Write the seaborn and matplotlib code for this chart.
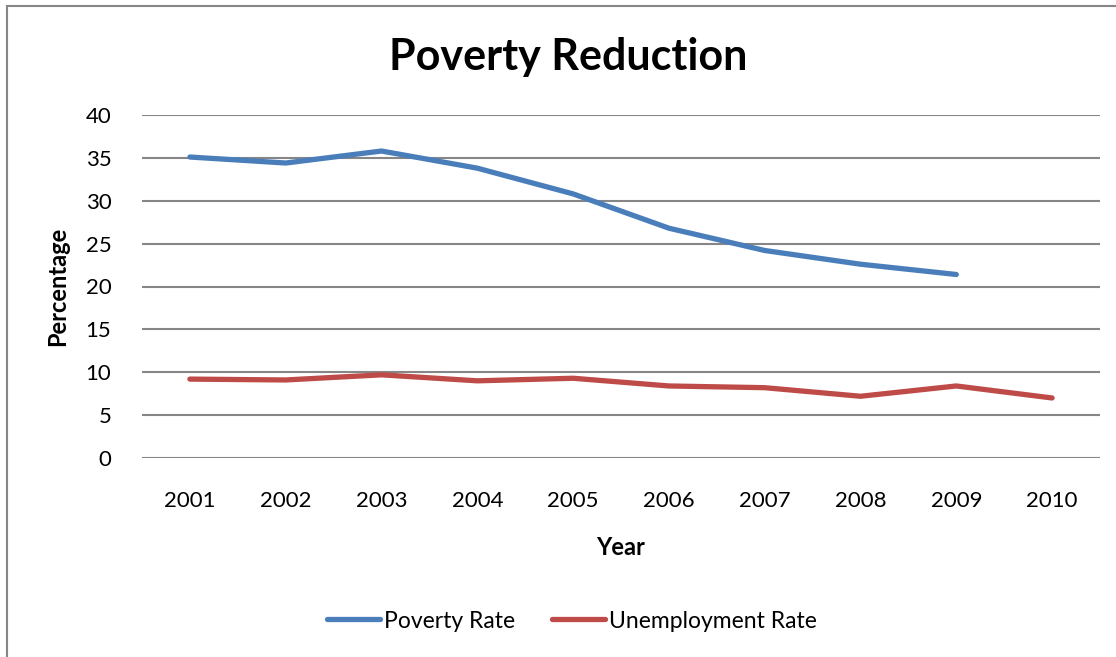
import pandas as pd
import seaborn as sns
import matplotlib.pyplot as plt
from matplotlib.patches import Rectangle

# data
years = [2001, 2002, 2003, 2004, 2005, 2006, 2007, 2008, 2009, 2010]
poverty = [35.1, 34.4, 35.8, 33.8, 30.8, 26.8, 24.2, 22.6, 21.4, None]
unemployment = [9.2, 9.1, 9.7, 9.0, 9.3, 8.4, 8.2, 7.2, 8.4, 7.0]

df = pd.DataFrame({'Year': years, 'Poverty Rate': poverty, 'Unemployment Rate': unemployment})
df = df.melt(id_vars='Year', var_name='Series', value_name='Percentage').dropna()

sns.set_theme(style='white')
plt.rcParams['font.family'] = ['Lato', 'DejaVu Sans']
plt.rcParams['text.color'] = 'black'
plt.rcParams['axes.labelcolor'] = 'black'

fig = plt.figure(figsize=(11.16, 6.57), dpi=100)
ax = fig.add_axes([142/1116, 1 - 458/657, (1100 - 142)/1116, (458 - 115)/657])

# outer chart frame
fig.patches.append(Rectangle((7/1116, -0.1), 1.2, 1 - 6/657 + 0.1, transform=fig.transFigure,
                             fill=False, edgecolor='#868686', linewidth=1.5))

sns.lineplot(data=df, x='Year', y='Percentage', hue='Series',
             palette={'Poverty Rate': '#4A7EBB', 'Unemployment Rate': '#BE4B48'},
             linewidth=3.8, ax=ax, legend=False, solid_capstyle='round')

ax.set_xlim(2000.5, 2010.5)
ax.set_ylim(0, 40)
ax.set_yticks(range(0, 41, 5))
ax.set_xticks(years)
ax.grid(axis='y', color='#868686', linewidth=1.5)
ax.set_axisbelow(True)
for s in ax.spines.values():
    s.set_visible(False)
ax.tick_params(axis='both', length=0, labelsize=16, colors='black')
ax.tick_params(axis='y', pad=22)
ax.tick_params(axis='x', pad=24)

ax.set_xlabel('Year', fontsize=17, fontweight='bold', labelpad=18)
ax.set_ylabel('Percentage', fontsize=17, fontweight='bold', labelpad=12)

fig.text(568/1116, 1 - 57/657, 'Poverty Reduction', ha='center', va='center',
         fontsize=31, fontweight='bold')

handles = [plt.Line2D([], [], color='#4A7EBB', linewidth=3.8, solid_capstyle='round'),
           plt.Line2D([], [], color='#BE4B48', linewidth=3.8, solid_capstyle='round')]
fig.legend(handles, ['Poverty Rate', 'Unemployment Rate'], loc='center',
           bbox_to_anchor=(572/1116, 1 - 621/657), ncol=2, frameon=False,
           fontsize=16.5, handlelength=2.3, handletextpad=0.2, columnspacing=1.6)

fig.savefig('out.png', dpi=100, facecolor='white')
